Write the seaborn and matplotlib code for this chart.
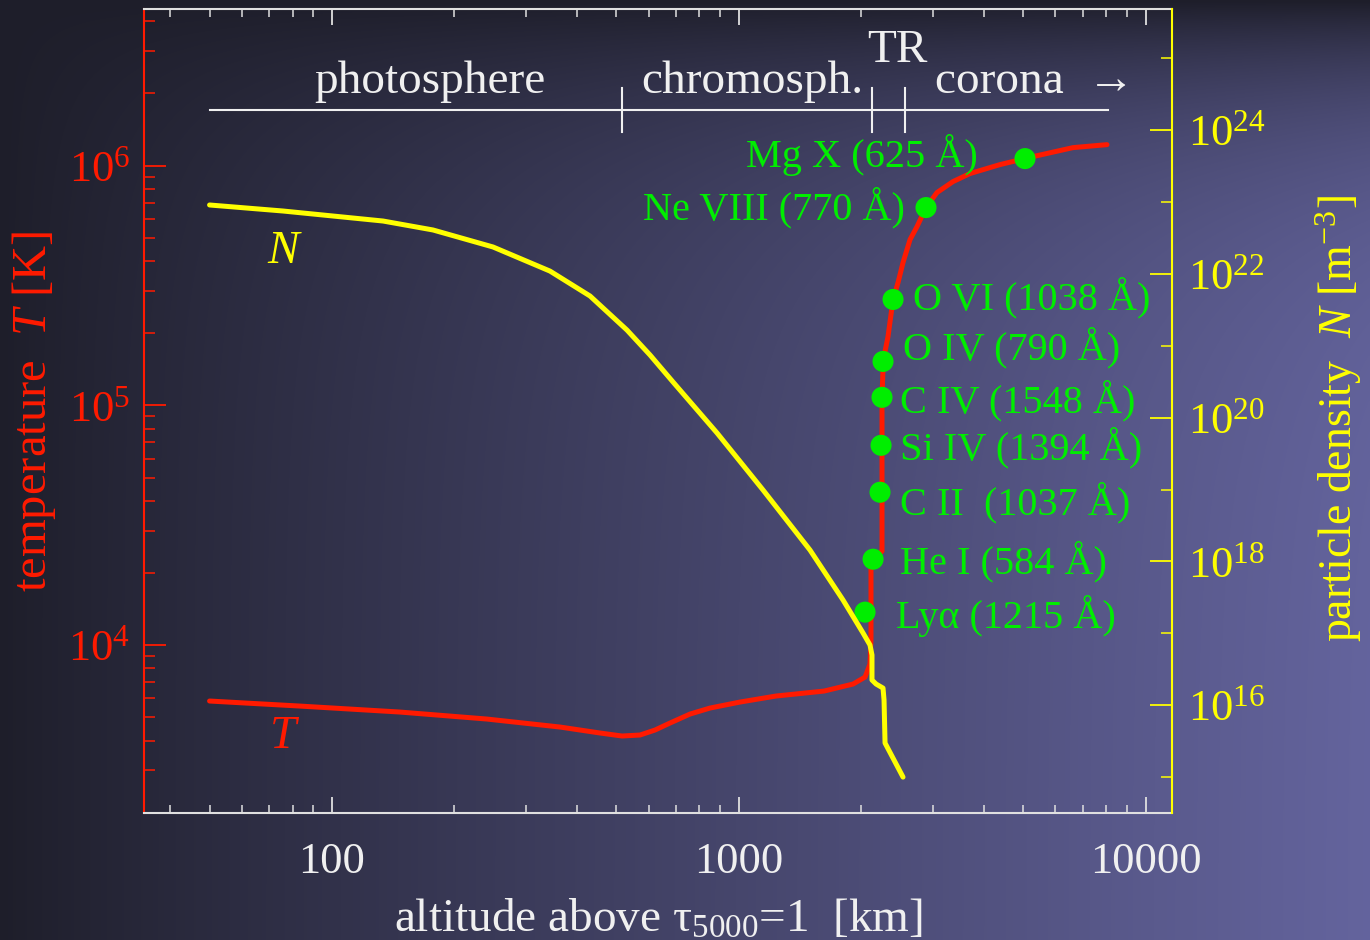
import numpy as np
import pandas as pd
import matplotlib
matplotlib.use("Agg")
import matplotlib.pyplot as plt
import matplotlib.ticker as mticker
import matplotlib.transforms as mtransforms
import seaborn as sns

# ---------------------------------------------------------------
# Temperature profile of the quiet-Sun atmosphere  T(h)
altitude_T = [50, 83.4, 146.9, 240.4, 363.5, 456, 516.4, 571.6, 622.3, 677.5,
              758.6, 849.6, 1007, 1234, 1620, 1909, 2043, 2101, 2113, 2113,
              2113, 2138, 2249, 2249, 2249, 2249, 2262, 2288, 2327, 2394,
              2463, 2533, 2636, 2742, 2885, 3070, 3361, 3701, 4386, 5287,
              6628, 8036]
temperature = [5845, 5569, 5258, 4916, 4553, 4299, 4177, 4217, 4424, 4732,
               5158, 5464, 5788, 6132, 6432, 6880, 7356, 8334, 10593, 15550,
               20740, 22820, 24650, 40580, 68780, 109000, 141300, 167900,
               193900, 276500, 325500, 394300, 491700, 556800, 668300,
               772100, 857600, 926600, 1009700, 1090300, 1188500, 1223000]

# Particle density profile  N(h)
altitude_N = [50, 75.8, 133.5, 177.1, 248.8, 343.5, 430.8, 531, 604.9, 689,
              884.1, 1147, 1496, 1804, 2020, 2101, 2125, 2125, 2175, 2262,
              2275, 2288, 2533]
density = [9.06e22, 7.47e22, 5.42e22, 4.07e22, 2.36e22, 1.09e22, 4.91e21,
           1.65e21, 7.43e20, 3.13e20, 6.11e19, 9.84e18, 1.44e18, 2.90e17,
           1.01e17, 6.88e16, 4.99e16, 2.24e16, 1.97e16, 1.73e16, 1.18e16,
           2.98e15, 1.00e15]

# Formation heights of UV / EUV emission lines
line_names = ["Ly\u03b1 (1215 \u00c5)", "He I (584 \u00c5)", "C II  (1037 \u00c5)",
              "Si IV (1394 \u00c5)", "C IV (1548 \u00c5)", "O IV (790 \u00c5)",
              "O VI (1038 \u00c5)", "Ne VIII (770 \u00c5)", "Mg X (625 \u00c5)"]
line_altitude = [2043, 2138, 2224, 2237, 2249, 2262, 2394, 2885, 5052]
line_temperature = [13725, 22820, 43410, 68120, 108000, 152500, 276500,
                    668300, 1069600]

# Atmospheric layers along the top of the plot
layer_bounds = [50, 516, 2125, 2563, 8080]
layer_names = ["photosphere", "chromosph.", "TR", "corona  \u2192"]

# Tick values
x_major = [100, 1000, 10000]
n_major = [1e16, 1e18, 1e20, 1e22, 1e24]
n_minor = [1e15, 1e17, 1e19, 1e21, 1e23, 1e25]

# ---------------------------------------------------------------
plt.rcParams["font.family"] = ["Liberation Serif", "DejaVu Serif"]
plt.rcParams["mathtext.fontset"] = "custom"
plt.rcParams["mathtext.rm"] = "Liberation Serif"
plt.rcParams["mathtext.it"] = "Liberation Serif:italic"

RED = "#ff1a00"
YELLOW = "#ffff00"
GREEN = "#00ee00"
WHITE = "#f0f0f0"

fig = plt.figure(figsize=(13.7, 9.4), dpi=100)

# slide-style background: dark at the top/left, lighter violet towards bottom right
bg = fig.add_axes([0, 0, 1, 1], zorder=-10)
H, W = 470, 685
X, Y = np.meshgrid(np.linspace(0, 1, W), np.linspace(0, 1, H))
f = X ** 0.9 * (1 - np.exp(-Y / 0.12))
v = 30 + 70 * f
rgb = np.dstack([v, v, 42 + 1.65 * (v - 30)]) / 255.0
bg.imshow(np.clip(rgb, 0, 1), aspect="auto", extent=[0, 1, 0, 1],
          origin="upper", interpolation="bilinear")
bg.axis("off")

ax = fig.add_axes([0.10511, 0.13543, 0.75036, 0.85500])
ax.set_facecolor("none")
ax.set_xscale("log")
ax.set_yscale("log")
ax.set_xlim(34.5, 11610)
ax.set_ylim(2000, 4.5e6)

ax2 = ax.twinx()
ax2.set_yscale("log")
ax2.set_ylim(10 ** 14.505, 10 ** 25.683)

dfT = pd.DataFrame({"altitude": altitude_T, "T": temperature})
dfN = pd.DataFrame({"altitude": altitude_N, "N": density})
dfL = pd.DataFrame({"altitude": line_altitude, "T": line_temperature,
                    "line": line_names})

sns.lineplot(data=dfT, x="altitude", y="T", ax=ax, color=RED, lw=3.6,
             sort=False, estimator=None, zorder=3)
sns.scatterplot(data=dfL, x="altitude", y="T", ax=ax, color=GREEN, s=230,
                edgecolor="none", zorder=5)
sns.lineplot(data=dfN, x="altitude", y="N", ax=ax2, color=YELLOW, lw=3.6,
             sort=False, estimator=None, zorder=3)
for ln in ax.lines + ax2.lines:
    ln.set_solid_joinstyle("round")
    ln.set_solid_capstyle("round")

# line labels (offsets in pixels from each dot)
label_offsets = [(31, -4, "left"), (27, -2, "left"), (20, -10, "left"),
                 (19, -2, "left"), (18, -3, "left"), (20, 14, "left"),
                 (20, 2, "left"), (-21, 0, "right"), (-47, 4, "right")]
for (name, xa, ta), (dx, dy, ha) in zip(zip(line_names, line_altitude,
                                            line_temperature), label_offsets):
    ax.annotate(name, (xa, ta), xytext=(dx, dy), textcoords="offset pixels",
                ha=ha, va="center", color=GREEN, fontsize=29, zorder=6)

# curve labels
ax.text(75.8, 4138, "T", color=RED, fontsize=34, fontstyle="italic",
        ha="center", va="center")
ax2.text(75.8, 10 ** 22.30, "N", color=YELLOW, fontsize=34,
         fontstyle="italic", ha="center", va="center")

# layer bar
trans = mtransforms.blended_transform_factory(ax.transData, ax.transAxes)
ax.plot([layer_bounds[0], layer_bounds[-1]], [0.8743, 0.8743], transform=trans,
        color=WHITE, lw=1.5, clip_on=False)
for b in layer_bounds[1:-1]:
    ax.plot([b, b], [0.847, 0.9017], transform=trans, color=WHITE, lw=1.5,
            clip_on=False)
layer_text_x = [174, 1078, 2448, 3036]
layer_text_y = [0.8955, 0.8955, 0.934, 0.8955]
layer_text_ha = ["center", "center", "center", "left"]
for name, lx, ly, ha in zip(layer_names, layer_text_x, layer_text_y,
                            layer_text_ha):
    ax.text(lx, ly, name, transform=trans, color=WHITE, fontsize=34,
            ha=ha, va="baseline")

# axes styling
ax.spines["left"].set_color(RED)
ax.spines["left"].set_linewidth(1.5)
ax.spines["right"].set_visible(False)
for s in ("top", "bottom"):
    ax.spines[s].set_color("#e0e0e0")
    ax.spines[s].set_linewidth(1.5)
for s in ("left", "top", "bottom"):
    ax2.spines[s].set_visible(False)
ax2.spines["right"].set_color(YELLOW)
ax2.spines["right"].set_linewidth(1.5)

ax.xaxis.set_major_locator(mticker.FixedLocator(x_major))
ax.xaxis.set_major_formatter(mticker.FuncFormatter(lambda val, _: f"{val:g}"))
ax.xaxis.set_minor_locator(mticker.LogLocator(base=10, subs=np.arange(2, 10), numticks=20))
ax.xaxis.set_minor_formatter(mticker.NullFormatter())
ax.tick_params(axis="x", which="both", direction="in", top=True, bottom=True,
               color="#e0e0e0", labelcolor=WHITE, labelsize=32, pad=21)
ax.tick_params(axis="x", which="major", length=11.5, width=1.3)
ax.tick_params(axis="x", which="minor", length=5.8, width=1.1)

ax.yaxis.set_major_locator(mticker.LogLocator(base=10, numticks=10))
ax.yaxis.set_major_formatter(mticker.LogFormatterMathtext())
ax.yaxis.set_minor_locator(mticker.LogLocator(base=10, subs=np.arange(2, 10), numticks=20))
ax.yaxis.set_minor_formatter(mticker.NullFormatter())
ax.tick_params(axis="y", which="both", direction="in", left=True, right=False,
               color=RED, labelcolor=RED, labelsize=32, pad=10)
ax.tick_params(axis="y", which="major", length=15.8, width=1.3)
ax.tick_params(axis="y", which="minor", length=7.9, width=1.1)

ax2.yaxis.set_major_locator(mticker.FixedLocator(n_major))
ax2.yaxis.set_major_formatter(mticker.LogFormatterMathtext())
ax2.yaxis.set_minor_locator(mticker.FixedLocator(n_minor))
ax2.yaxis.set_minor_formatter(mticker.NullFormatter())
ax2.tick_params(axis="y", which="both", direction="in", right=True, left=False,
                color=YELLOW, labelcolor=YELLOW, labelsize=32, pad=11.5)
ax2.tick_params(axis="y", which="major", length=15.8, width=1.3)
ax2.tick_params(axis="y", which="minor", length=7.9, width=1.1)

ax.set_xlabel("altitude above \u03c4$_{5000}$=1  [km]", color=WHITE, fontsize=34)
ax.xaxis.set_label_coords(0.5, -0.107)
ax.set_ylabel("temperature  $T$ [K]", color=RED, fontsize=35)
ax.yaxis.set_label_coords(-0.084, 0.5)
ax2.set_ylabel("particle density  $N$ [m$^{-3}$]", color=YELLOW, fontsize=33)
ax2.yaxis.set_label_coords(1.138, 0.49)

fig.savefig("out.png", dpi=100)
